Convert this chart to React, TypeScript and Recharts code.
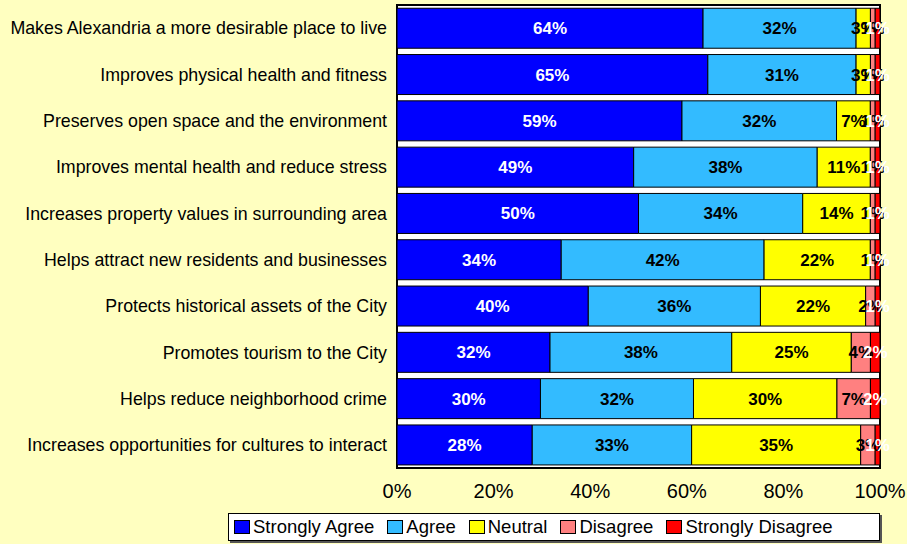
import { BarChart, Bar, XAxis, YAxis, CartesianGrid, ReferenceArea, LabelList, Legend } from 'recharts';

const categories = [
  'Makes Alexandria a more desirable place to live',
  'Improves physical health and fitness',
  'Preserves open space and the environment',
  'Improves mental health and reduce stress',
  'Increases property values in surrounding area',
  'Helps attract new residents and businesses',
  'Protects historical assets of the City',
  'Promotes tourism to the City',
  'Helps reduce neighborhood crime',
  'Increases opportunities for cultures to interact',
];

const stronglyAgree = [64, 65, 59, 49, 50, 34, 40, 32, 30, 28];
const agree = [32, 31, 32, 38, 34, 42, 36, 38, 32, 33];
const neutral = [3, 3, 7, 11, 14, 22, 22, 25, 30, 35];
const disagree = [1, 1, 1, 1, 1, 1, 2, 4, 7, 3];
const stronglyDisagree = [1, 1, 1, 1, 1, 1, 1, 2, 2, 1];

const xTicks = [0, 0.2, 0.4, 0.6, 0.8, 1];

const series = [
  { key: 'sa', name: 'Strongly Agree', color: '#0000FF', label: '#FFFFFF' },
  { key: 'a', name: 'Agree', color: '#33BBFF', label: '#000000' },
  { key: 'n', name: 'Neutral', color: '#FFFF00', label: '#000000' },
  { key: 'd', name: 'Disagree', color: '#FF8080', label: '#000000' },
  { key: 'sd', name: 'Strongly Disagree', color: '#FF0000', label: '#FFFFFF' },
];

const data = categories.map((c, i) => ({
  name: c,
  sa: stronglyAgree[i],
  a: agree[i],
  n: neutral[i],
  d: disagree[i],
  sd: stronglyDisagree[i],
}));

const font = '"Liberation Sans", Arial, sans-serif';

function LegendBox() {
  return (
    <div
      style={{
        boxSizing: 'border-box',
        width: 652,
        height: 28,
        border: '1px solid #000',
        background: '#fff',
        display: 'flex',
        alignItems: 'center',
        paddingLeft: 5,
        fontFamily: font,
        fontSize: 18.5,
        color: '#000',
        boxShadow: '2px 2px 0 #555',
        whiteSpace: 'nowrap',
      }}
    >
      {series.map((s) => (
        <span key={s.key} style={{ display: 'flex', alignItems: 'center', marginRight: 13 }}>
          <span
            style={{
              display: 'inline-block',
              width: 16,
              height: 14,
              background: s.color,
              border: '1px solid #000',
              marginRight: 3,
              boxSizing: 'border-box',
            }}
          />
          {s.name}
        </span>
      ))}
    </div>
  );
}

export default function App() {
  return (
    <div style={{ position: 'fixed', left: 0, top: 0, width: 907, height: 544, background: '#FFFFC0' }}>
      <BarChart
        width={907}
        height={544}
        data={data}
        layout="vertical"
        stackOffset="expand"
        barCategoryGap="7%"
        margin={{ top: 5, right: 27, bottom: 0, left: 0 }}
      >
        <CartesianGrid horizontal={false} vertical={false} fill="#FFFFFF" />
        <XAxis
          type="number"
          domain={[0, 1]}
          ticks={xTicks}
          tickFormatter={(v: number) => `${Math.round(v * 100)}%`}
          axisLine={false}
          tickLine={false}
          tickMargin={10}
          height={76}
          interval={0}
          tick={{ fill: '#000', fontSize: 20, fontFamily: font }}
        />
        <YAxis
          type="category"
          dataKey="name"
          width={397}
          axisLine={false}
          tickLine={false}
          tickMargin={4}
          interval={0}
          tick={{ fill: '#000', fontSize: 17.8, fontFamily: font }}
        />
        {series.map((s) => (
          <Bar
            key={s.key}
            dataKey={s.key}
            name={s.name}
            stackId="s"
            fill={s.color}
            stroke="#000"
            strokeWidth={1}
            isAnimationActive={false}
          >
            <LabelList
              dataKey={s.key}
              position="center"
              formatter={(v: number) => `${v}%`}
              style={{ fill: s.label, fontSize: 17, fontWeight: 'bold', fontFamily: font }}
            />
          </Bar>
        ))}
        <ReferenceArea x1={0} x2={1} fill="none" stroke="#000" strokeWidth={2} ifOverflow="visible" />
        <Legend
          layout="horizontal"
          verticalAlign="middle"
          align="center"
          content={() => <LegendBox />}
          wrapperStyle={{ top: 513, left: 228, width: 652 }}
        />
      </BarChart>
    </div>
  );
}
